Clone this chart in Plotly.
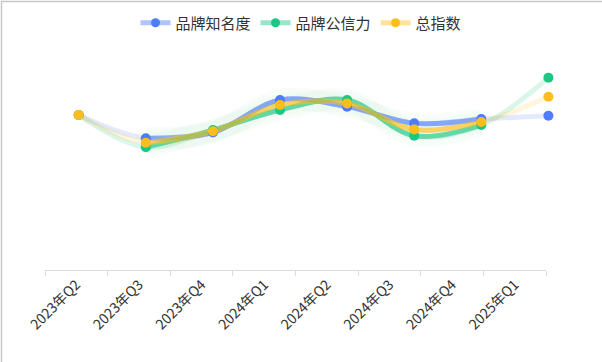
import plotly.graph_objects as go

# ---- data ----
quarters = ["2023年Q2", "2023年Q3", "2023年Q4", "2024年Q1", "2024年Q2", "2024年Q3", "2024年Q4", "2025年Q1"]
awareness = [100, 85.0, 88.7, 109.7, 105.4, 94.6, 97.4, 99.5]      # 品牌知名度
credibility = [100, 79.2, 90.3, 103.2, 109.7, 86.6, 93.5, 124.1]   # 品牌公信力
total = [100, 82.1, 89.5, 106.5, 107.5, 90.6, 95.5, 111.8]         # 总指数
series_names = ["品牌知名度", "品牌公信力", "总指数"]

W, H = 602, 362
FONT = "Noto Sans CJK SC, Microsoft YaHei, sans-serif"

colors = [(79, 125, 249), (27, 199, 133), (253, 190, 28)]
values = [awareness, credibility, total]


def rgba(c, a):
    return f"rgba({c[0]},{c[1]},{c[2]},{a})"


idx = list(range(len(quarters)))

fig = go.Figure()

# invisible trace to establish category axis
fig.add_trace(go.Scatter(x=quarters, y=total, mode="lines", opacity=0,
                         hoverinfo="skip", showlegend=False, xaxis="x", yaxis="y"))

mid = slice(1, len(quarters) - 1)

# soft glow (greenish shadow)
for c, v in zip(colors, values):
    fig.add_trace(go.Scatter(x=idx[mid], y=v[mid], mode="lines",
                             line=dict(color=rgba((120, 200, 140), 0.045), width=22, shape="spline"),
                             hoverinfo="skip", showlegend=False, xaxis="x2", yaxis="y2"))
# faint full lines
for c, v in zip(colors, values):
    fig.add_trace(go.Scatter(x=idx, y=v, mode="lines",
                             line=dict(color=rgba(c, 0.16), width=5, shape="spline"),
                             hoverinfo="skip", showlegend=False, xaxis="x2", yaxis="y2"))
# strong middle lines
for c, v in zip(colors, values):
    fig.add_trace(go.Scatter(x=idx[mid], y=v[mid], mode="lines",
                             line=dict(color=rgba(c, 0.6), width=5, shape="spline"),
                             hoverinfo="skip", showlegend=False, xaxis="x2", yaxis="y2"))
# markers
for c, v in zip(colors, values):
    fig.add_trace(go.Scatter(x=idx, y=v, mode="markers",
                             marker=dict(color=rgba(c, 1), size=10),
                             showlegend=False, xaxis="x2", yaxis="y2", cliponaxis=False))
# legend entries
for n, c in zip(series_names, colors):
    fig.add_trace(go.Scatter(x=[None], y=[None], mode="lines+markers", name=n,
                             line=dict(color=rgba(c, 0.45), width=5),
                             marker=dict(color=rgba(c, 1), size=9),
                             xaxis="x2", yaxis="y2"))

px_per_unit = 1.55
ytop = 270 / px_per_unit
ydom = [(H - 270) / H, 1]

# data axis: index 0 at px 78.7, spacing 67.1 px
x2_range = [(0 - 78.7) / 67.1, (W - 78.7) / 67.1]

fig.update_layout(
    width=W, height=H,
    margin=dict(l=0, r=0, t=0, b=0),
    paper_bgcolor="white", plot_bgcolor="rgba(0,0,0,0)",
    font=dict(family=FONT, color="#333333"),
    xaxis=dict(domain=[45 / W, 546 / W], type="category", range=[-0.5, 7.5],
               tickson="boundaries", ticks="outside", ticklen=5, tickcolor="#dcdcdc",
               showline=True, linecolor="#dcdcdc", linewidth=1, showgrid=False,
               zeroline=False, tickangle=-45, tickfont=dict(size=14, color="#333333"),
               anchor="y", automargin=False, fixedrange=True),
    yaxis=dict(domain=ydom, range=[0, ytop], visible=False, anchor="x", fixedrange=True),
    xaxis2=dict(domain=[0, 1], range=x2_range, visible=False, anchor="y2", fixedrange=True),
    yaxis2=dict(domain=ydom, range=[0, ytop], visible=False, anchor="x2", fixedrange=True),
    legend=dict(orientation="h", x=0.5, xanchor="center", y=1 - 23 / H, yanchor="middle",
                font=dict(size=15, color="#333333"), bgcolor="rgba(0,0,0,0)",
                itemwidth=30, traceorder="normal"),
    showlegend=True,
    shapes=[dict(type="rect", xref="paper", yref="paper",
                 x0=1.5 / W, x1=1.5, y0=-1, y1=1 - 1.5 / H,
                 line=dict(color="#c8c8c8", width=1.5), fillcolor="rgba(0,0,0,0)")],
)

fig.write_html("out.html", config={"displayModeBar": False},
               post_script="document.body.style.margin='0';document.body.style.overflow='hidden';")
